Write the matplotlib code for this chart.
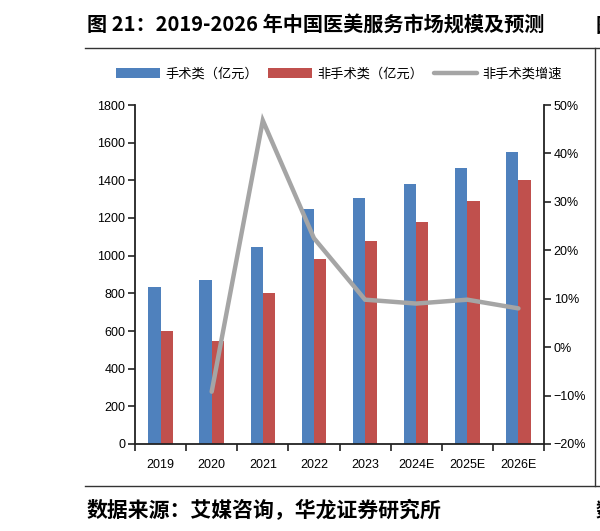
import numpy as np
import matplotlib.pyplot as plt
from matplotlib.lines import Line2D
from matplotlib.patches import Patch
from matplotlib.ticker import FixedLocator, FuncFormatter

plt.rcParams['font.family'] = ['Liberation Sans', 'Noto Sans CJK SC', 'DejaVu Sans']
plt.rcParams['axes.unicode_minus'] = True

# 数据
years = ['2019', '2020', '2021', '2022', '2023', '2024E', '2025E', '2026E']
surgical = [835, 870, 1045, 1250, 1308, 1380, 1465, 1550]
non_surgical = [600, 545, 800, 980, 1076, 1180, 1290, 1400]
growth_years = ['2020', '2021', '2022', '2023', '2024E', '2025E', '2026E']
non_surgical_growth = [-9.2, 46.8, 22.5, 9.8, 9.0, 9.8, 8.0]

blue = '#4F81BD'
red = '#C0504D'
grey = '#A5A5A5'

fig = plt.figure(figsize=(6.0, 5.31), dpi=100)
ax = fig.add_axes([135 / 600, 1 - 444 / 531, 409 / 600, 339 / 531])
ax2 = ax.twinx()

x = np.arange(len(years))
w = 0.24
ax.bar(x - w / 2, surgical, width=w, color=blue, zorder=2)
ax.bar(x + w / 2, non_surgical, width=w, color=red, zorder=2)

gx = [years.index(y) for y in growth_years]
ax2.plot(gx, non_surgical_growth, color=grey, linewidth=3.2,
         solid_capstyle='round', solid_joinstyle='miter', zorder=3)

# 坐标轴
ax.set_xlim(-0.5, len(years) - 0.5)
ax.set_ylim(0, 1800)
ax.set_yticks(np.arange(0, 1801, 200))
ax2.set_ylim(-20, 50)
ax2.set_yticks(np.arange(-20, 51, 10))
ax2.yaxis.set_major_formatter(FuncFormatter(lambda v, p: f'{v:.0f}%'.replace('-', '\u2212')))

ax.set_xticks(x)
ax.set_xticklabels(years)
ax.xaxis.set_minor_locator(FixedLocator(np.arange(-0.5, len(years), 1.0)))
ax.tick_params(axis='x', which='major', length=0, pad=11, labelsize=9)
ax.tick_params(axis='x', which='minor', length=5, width=1.2, direction='out', color='#222222')
ax.tick_params(axis='y', length=5, width=1.2, pad=2, labelsize=9, color='#222222')
ax2.tick_params(axis='y', length=5, width=1.2, pad=2, labelsize=9, color='#222222')

for a in (ax, ax2):
    a.spines['top'].set_visible(False)
    for s in ('left', 'right', 'bottom'):
        a.spines[s].set_linewidth(1.3)
        a.spines[s].set_color('#222222')
ax.spines['right'].set_visible(False)
ax2.spines['left'].set_visible(False)
ax2.spines['bottom'].set_visible(False)

# 图例
handles = [Patch(facecolor=blue, edgecolor='none'),
           Patch(facecolor=red, edgecolor='none'),
           Line2D([0], [0], color=grey, linewidth=3.2, solid_capstyle='round')]
labels = ['手术类（亿元）', '非手术类（亿元）', '非手术类增速']
fig.legend(handles, labels, loc='center', bbox_to_anchor=(339 / 600, 1 - 74 / 531),
           ncol=3, frameon=False, prop={'family': 'Noto Sans CJK SC', 'size': 9.5},
           handlelength=3.3, handleheight=0.8, handletextpad=0.4, columnspacing=0.8)

# 标题、来源和边框线
fig.text(87 / 600, 1 - 25 / 531, '图 21：2019-2026 年中国医美服务市场规模及预测',
         family=['Noto Sans CJK SC', 'DejaVu Sans'], fontweight='bold', fontsize=14.5,
         ha='left', va='center')
fig.text(87 / 600, 1 - 510 / 531, '数据来源：艾媒咨询，华龙证券研究所',
         family=['Noto Sans CJK SC'], fontweight='bold', fontsize=15,
         ha='left', va='center')
fig.text(596 / 600, 1 - 25 / 531, '图', family=['Noto Sans CJK SC'], fontweight='bold',
         fontsize=14.5, ha='left', va='center')
fig.text(596 / 600, 1 - 510 / 531, '数', family=['Noto Sans CJK SC'], fontweight='bold',
         fontsize=14.5, ha='left', va='center')

for yy in (48, 486):
    fig.add_artist(Line2D([85 / 600, 1.0], [1 - yy / 531] * 2, color='#333333', linewidth=1.0))
fig.add_artist(Line2D([595 / 600] * 2, [1 - 48 / 531, 1 - 486 / 531], color='#333333', linewidth=1.0))

fig.savefig('out.png', dpi=100)
